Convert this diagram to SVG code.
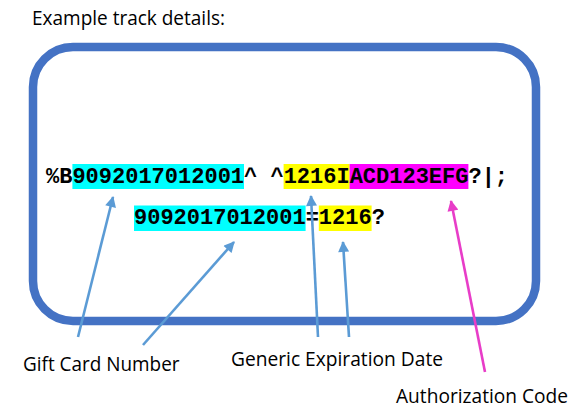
<svg xmlns="http://www.w3.org/2000/svg" width="583" height="413" viewBox="0 0 583 413">
<style>
.lbl{font-family:"Open Sans","Liberation Sans",sans-serif;font-size:20px;fill:#000}
.trk{font-family:"Liberation Mono","Courier New",monospace;font-size:22px;font-weight:bold;fill:#000}
.blue{stroke:#5B9BD5;stroke-width:2.6;fill:none;marker-end:url(#ab)}
.pink{stroke:#E83DC8;stroke-width:2.6;fill:none;marker-end:url(#ap)}
</style>
<defs>
<marker id="ab" viewBox="0 0 10 10" refX="9" refY="5" markerWidth="12" markerHeight="11" markerUnits="userSpaceOnUse" orient="auto"><path d="M0,0 L10,5 L0,10 z" fill="#5B9BD5"/></marker>
<marker id="ap" viewBox="0 0 10 10" refX="9" refY="5" markerWidth="12" markerHeight="11" markerUnits="userSpaceOnUse" orient="auto"><path d="M0,0 L10,5 L0,10 z" fill="#E83DC8"/></marker>
</defs>
<rect width="583" height="413" fill="#fff"/>
<g id="title"><text class="lbl" x="32" y="25" textLength="193" lengthAdjust="spacingAndGlyphs">Example track details:</text></g>
<g id="card"><rect x="33" y="47" width="503" height="274" rx="40" ry="40" fill="none" stroke="#4472C4" stroke-width="8.5"/></g>
<g id="track1">
<rect x="72.4" y="164" width="171.6" height="25" fill="#00FFFF"/>
<rect x="283.6" y="164" width="66" height="25" fill="#FFFF00"/>
<rect x="349.6" y="164" width="118.8" height="25" fill="#FF00FF"/>
<text class="trk" x="46" y="182.5" xml:space="preserve">%B9092017012001^ ^1216IACD123EFG?|;</text>
</g>
<g id="track2">
<rect x="134" y="205.5" width="171.6" height="25.5" fill="#00FFFF"/>
<rect x="318.8" y="205.5" width="52.8" height="25.5" fill="#FFFF00"/>
<text class="trk" x="134" y="224">9092017012001=1216?</text>
</g>
<g id="connectors">
<line class="blue" x1="78" y1="337" x2="113" y2="197"/>
<line class="blue" x1="143" y1="345" x2="234" y2="242"/>
<line class="blue" x1="318" y1="337" x2="311" y2="196"/>
<line class="blue" x1="349" y1="337" x2="343" y2="242"/>
<line class="pink" x1="485" y1="372" x2="451" y2="201"/>
</g>
<g id="label-gift"><text class="lbl" x="23" y="371" textLength="156.5" lengthAdjust="spacingAndGlyphs">Gift Card Number</text></g>
<g id="label-exp"><text class="lbl" x="231" y="366" textLength="212" lengthAdjust="spacingAndGlyphs">Generic Expiration Date</text></g>
<g id="label-auth"><text class="lbl" x="396" y="403" textLength="172" lengthAdjust="spacingAndGlyphs">Authorization Code</text></g>
</svg>
